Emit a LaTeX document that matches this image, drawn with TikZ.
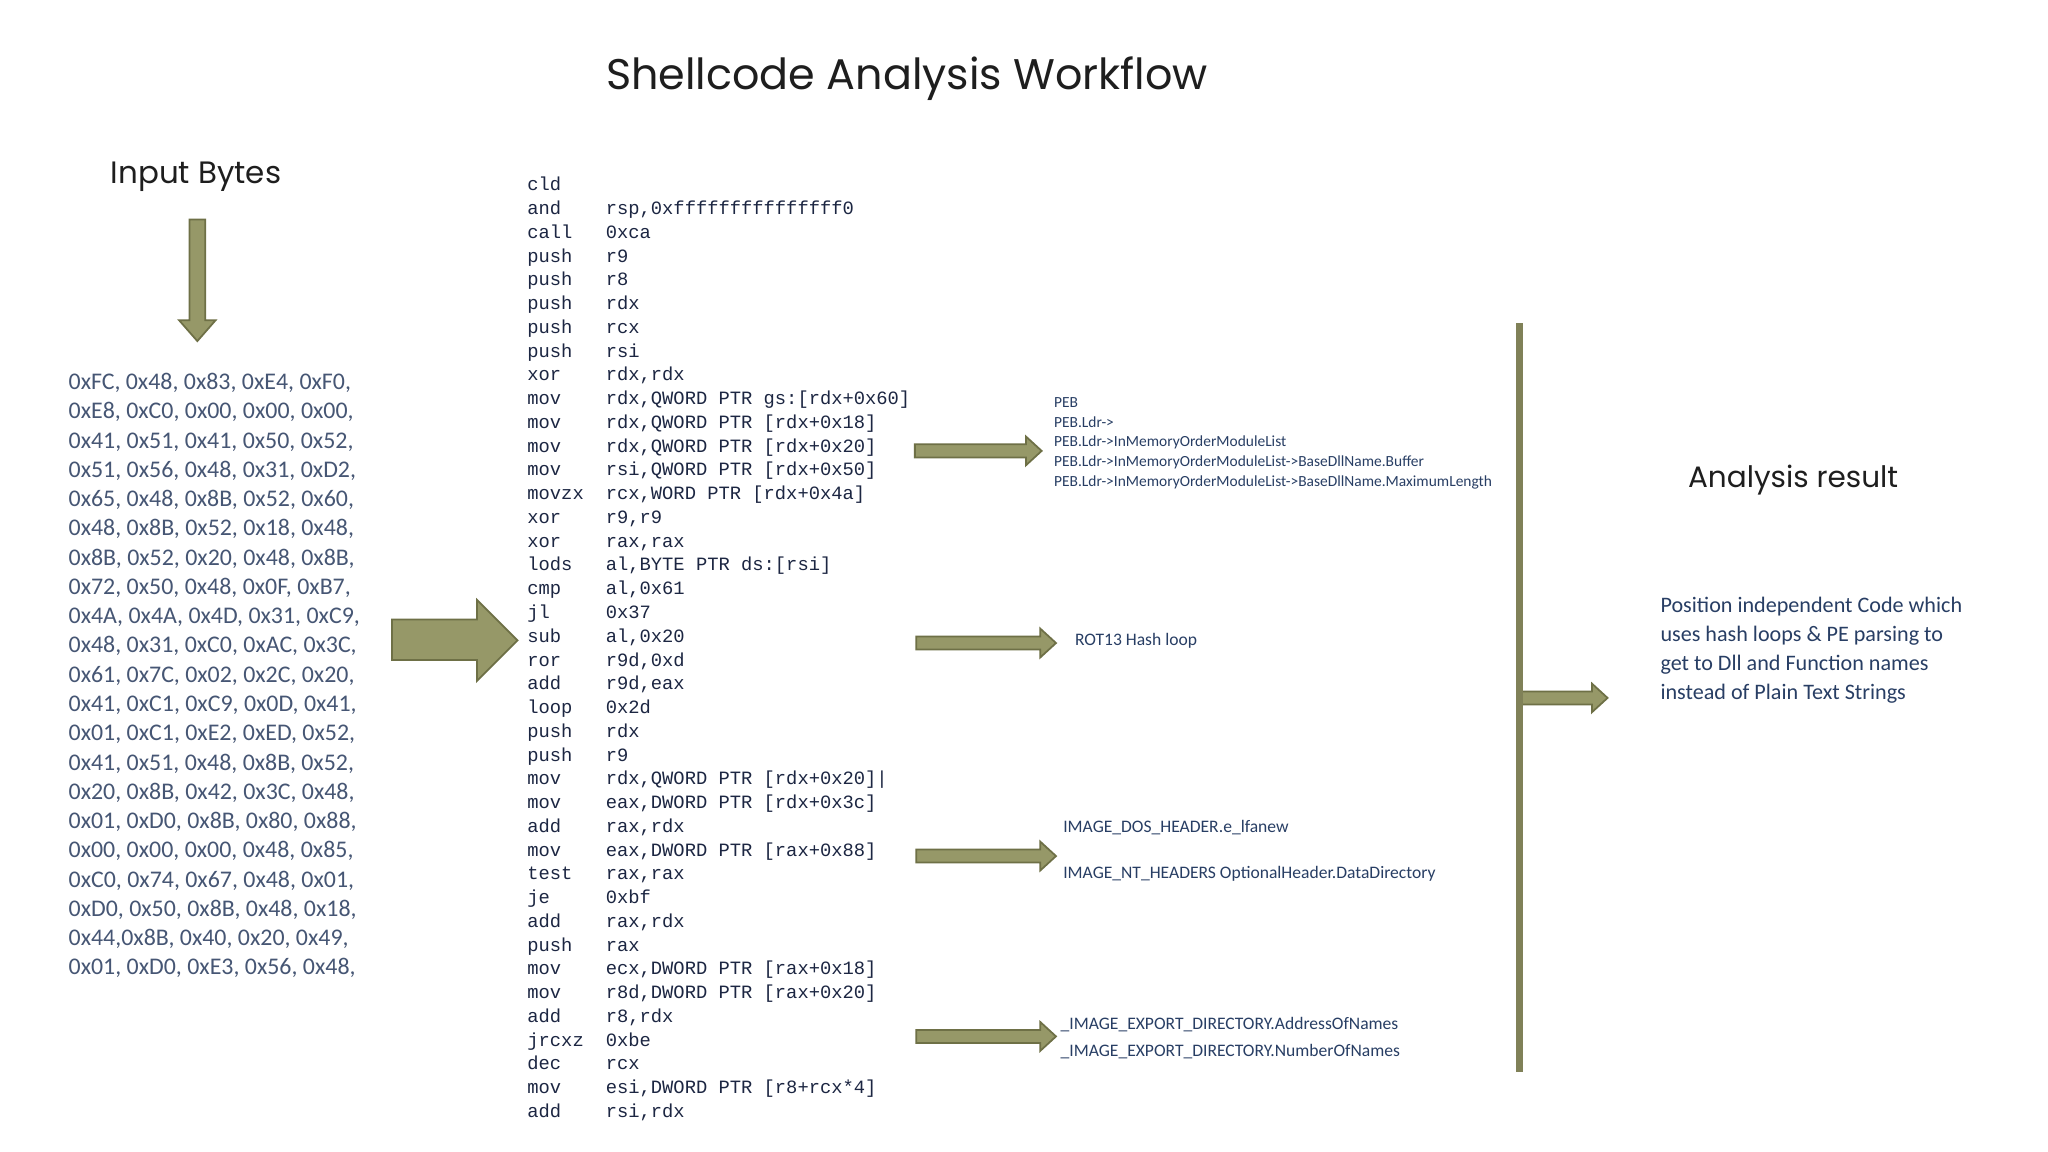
\documentclass[tikz,border=0pt]{standalone}
\usepackage{fontspec}
\setmainfont{Carlito}
\newfontfamily\titlefont{Poppins}
\newfontfamily\codefont{Liberation Mono}
\definecolor{olive}{RGB}{150,152,104}
\definecolor{oliveline}{RGB}{110,112,70}
\definecolor{bytec}{RGB}{70,86,116}
\definecolor{codec}{RGB}{28,38,66}
\definecolor{notec}{RGB}{40,62,100}
\definecolor{titc}{RGB}{30,30,30}
\begin{document}
\begin{tikzpicture}[x=0.013071cm,y=-0.013071cm,
  arr/.style={fill=olive,draw=oliveline,line width=0.5pt},
  txt/.style={anchor=base west,inner sep=0pt},
  codetxt/.style={txt,font=\codefont\fontsize{5.35}{6}\selectfont,text=codec},
  bytetxt/.style={txt,font=\fontsize{6.8}{8}\selectfont,text=bytec},
  notetxt/.style={txt,font=\fontsize{5}{6}\selectfont,text=notec},
  peb/.style={txt,font=\fontsize{4.4}{5}\selectfont,text=notec}]
\useasboundingbox (0,0) rectangle (1567,881);
\fill[white] (0,0) rectangle (1567,881);
\node[font=\titlefont\fontsize{12.2}{15}\selectfont,text=titc] (title) at (694,60) {Shellcode Analysis Workflow};
\node[font=\titlefont\fontsize{8.8}{11}\selectfont,text=titc] (inb) at (150,135) {Input Bytes};
\node[font=\titlefont\fontsize{8.4}{10}\selectfont,text=titc] (ares) at (1372,367) {Analysis result};
% arrows
\draw[arr] (145,168) -- (157,168) -- (157,245) -- (165,245) -- (151,261) -- (137,245) -- (145,245) -- cycle;
\draw[arr] (300,474) -- (365,474) -- (365,459) -- (396,490) -- (365,521) -- (365,505) -- (300,505) -- cycle;
\foreach \yy/\xa/\xb in {345/700/797, 492/701/808, 655/701/808, 793/701/808, 534/1164/1230}{
  \draw[arr] (\xa,\yy-5) -- (\xb-12,\yy-5) -- (\xb-12,\yy-11) -- (\xb,\yy) -- (\xb-12,\yy+11) -- (\xb-12,\yy+5) -- (\xa,\yy+5) -- cycle;}
\fill[olive!85!black] (1160,247) rectangle (1165,820);
% bytes
\foreach \t [count=\i from 0] in {{0xFC, 0x48, 0x83, 0xE4, 0xF0,},{0xE8, 0xC0, 0x00, 0x00, 0x00,},{0x41, 0x51, 0x41, 0x50, 0x52,},{0x51, 0x56, 0x48, 0x31, 0xD2,},{0x65, 0x48, 0x8B, 0x52, 0x60,},{0x48, 0x8B, 0x52, 0x18, 0x48,},{0x8B, 0x52, 0x20, 0x48, 0x8B,},{0x72, 0x50, 0x48, 0x0F, 0xB7,},{0x4A, 0x4A, 0x4D, 0x31, 0xC9,},{0x48, 0x31, 0xC0, 0xAC, 0x3C,},{0x61, 0x7C, 0x02, 0x2C, 0x20,},{0x41, 0xC1, 0xC9, 0x0D, 0x41,},{0x01, 0xC1, 0xE2, 0xED, 0x52,},{0x41, 0x51, 0x48, 0x8B, 0x52,},{0x20, 0x8B, 0x42, 0x3C, 0x48,},{0x01, 0xD0, 0x8B, 0x80, 0x88,},{0x00, 0x00, 0x00, 0x48, 0x85,},{0xC0, 0x74, 0x67, 0x48, 0x01,},{0xD0, 0x50, 0x8B, 0x48, 0x18,},{0x44,0x8B, 0x40, 0x20, 0x49,},{0x01, 0xD0, 0xE3, 0x56, 0x48,}}
  \node[bytetxt] (b\i) at (52,{298+22.4*\i}) {\t};
% code
\foreach \m/\o [count=\i from 0] in {cld/{},and/{rsp,0xfffffffffffffff0},call/0xca,push/r9,push/r8,push/rdx,push/rcx,push/rsi,xor/{rdx,rdx},mov/{rdx,QWORD PTR gs:[rdx+0x60]},mov/{rdx,QWORD PTR [rdx+0x18]},mov/{rdx,QWORD PTR [rdx+0x20]},mov/{rsi,QWORD PTR [rdx+0x50]},movzx/{rcx,WORD PTR [rdx+0x4a]},xor/{r9,r9},xor/{rax,rax},lods/{al,BYTE PTR ds:[rsi]},cmp/{al,0x61},jl/0x37,sub/{al,0x20},ror/{r9d,0xd},add/{r9d,eax},loop/0x2d,push/rdx,push/r9,mov/{rdx,QWORD PTR [rdx+0x20]|},mov/{eax,DWORD PTR [rdx+0x3c]},add/{rax,rdx},mov/{eax,DWORD PTR [rax+0x88]},test/{rax,rax},je/0xbf,add/{rax,rdx},push/rax,mov/{ecx,DWORD PTR [rax+0x18]},mov/{r8d,DWORD PTR [rax+0x20]},add/{r8,rdx},jrcxz/0xbe,dec/rcx,mov/{esi,DWORD PTR [r8+rcx*4]},add/{rsi,rdx}}{
  \node[codetxt] (m\i) at (403,{146+18.18*\i}) {\m};
  \node[codetxt] (o\i) at (463,{146+18.18*\i}) {\o};}
% notes
\foreach \t [count=\i from 0] in {PEB,PEB.Ldr->,PEB.Ldr->InMemoryOrderModuleList,PEB.Ldr->InMemoryOrderModuleList->BaseDllName.Buffer,PEB.Ldr->InMemoryOrderModuleList->BaseDllName.MaximumLength}
  \node[peb] (p\i) at (806,{312+15*\i}) {\t};
\node[notetxt] (rot) at (822,494) {ROT13 Hash loop};
\node[notetxt] (dos) at (813,637) {IMAGE\_DOS\_HEADER.e\_lfanew};
\node[notetxt] (nt) at (813,672) {IMAGE\_NT\_HEADERS OptionalHeader.DataDirectory};
\node[notetxt] (ex1) at (811,788) {\_IMAGE\_EXPORT\_DIRECTORY.AddressOfNames};
\node[notetxt] (ex2) at (811,808) {\_IMAGE\_EXPORT\_DIRECTORY.NumberOfNames};
\foreach \t [count=\i from 0] in {Position independent Code which,uses hash loops \& PE parsing to,get to Dll and Function names,instead of Plain Text Strings}
  \node[txt,font=\fontsize{6.3}{7}\selectfont,text=notec] (r\i) at (1270,{469+22*\i}) {\t};
\end{tikzpicture}
\end{document}
